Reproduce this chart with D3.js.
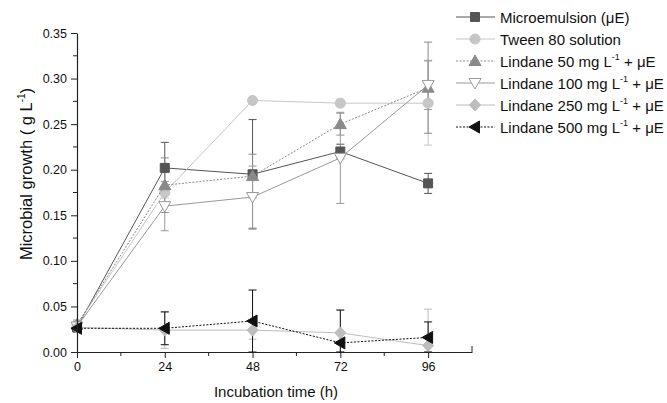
<!doctype html>
<html lang="en">
<head>
<meta charset="UTF-8">
<title>Microbial growth</title>
<script src="https://cdn.jsdelivr.net/npm/d3@7"></script>
<style>
  body { margin: 0; background: #fff; }
  text { font-family: "Liberation Sans", Arial, sans-serif; }
</style>
</head>
<body>
<script>
var W = 667, H = 403;

// data
var times = [0, 24, 48, 72, 96];
var seriesNames = ["Microemulsion (\u03bcE)", "Tween 80 solution", "Lindane 50 mg L", "Lindane 100 mg L", "Lindane 250 mg L", "Lindane 500 mg L"];
var microVals   = [0.027, 0.202, 0.195, 0.220, 0.185];
var microErr    = [0.005, 0.028, 0.060, 0.008, 0.011];
var tweenVals   = [0.030, 0.175, 0.276, 0.273, 0.273];
var tweenErr    = [0.004, 0.006, 0.002, 0.004, 0.046];
var lin50Vals   = [0.030, 0.183, 0.193, 0.250, 0.290];
var lin50Err    = [0.005, 0.030, 0.024, 0.012, 0.050];
var lin100Vals  = [0.028, 0.160, 0.170, 0.213, 0.293];
var lin100Err   = [0.005, 0.027, 0.034, 0.050, 0.027];
var lin250Vals  = [0.027, 0.024, 0.024, 0.021, 0.007];
var lin250Err   = [0.003, 0.020, 0.010, 0.025, 0.040];
var lin500Vals  = [0.026, 0.026, 0.034, 0.010, 0.016];
var lin500Err   = [0.003, 0.018, 0.034, 0.036, 0.017];
var xTicks = [0, 24, 48, 72, 96];
var yTicks = [0, 0.05, 0.10, 0.15, 0.20, 0.25, 0.30, 0.35];

var styles = [
  { vals: microVals,  err: microErr,  color: "#555", shape: "square",  dash: null,  fill: "#555" },
  { vals: tweenVals,  err: tweenErr,  color: "#c6c6c6", shape: "circle", dash: null, fill: "#c6c6c6" },
  { vals: lin50Vals,  err: lin50Err,  color: "#8a8a8a", shape: "up",   dash: "2,1.5", fill: "#8a8a8a" },
  { vals: lin100Vals, err: lin100Err, color: "#999", shape: "down",  dash: null, fill: "#fff" },
  { vals: lin250Vals, err: lin250Err, color: "#bdbdbd", shape: "diamond", dash: null, fill: "#bdbdbd" },
  { vals: lin500Vals, err: lin500Err, color: "#111", shape: "left",  dash: "2,1.5", fill: "#111" }
];

var x = d3.scaleLinear().domain([0, 108]).range([77, 472]);
var y = d3.scaleLinear().domain([0, 0.35]).range([352, 33]);

var svg = d3.select("body").append("svg").attr("width", W).attr("height", H);

function markerPath(shape) {
  if (shape === "square") return "M-4.5,-4.5H4.5V4.5H-4.5Z";
  if (shape === "circle") return d3.symbol(d3.symbolCircle, 80)();
  if (shape === "up") return "M0,-6L6,4.5H-6Z";
  if (shape === "down") return "M0,6L6,-4.5H-6Z";
  if (shape === "diamond") return "M0,-6L5.5,0L0,6L-5.5,0Z";
  if (shape === "left") return "M-6,0L4.5,-6V6Z";
}

var line = d3.line().x(function(d) { return x(d[0]); }).y(function(d) { return y(d[1]); });

// error bars
styles.forEach(function(s) {
  var g = svg.append("g");
  times.forEach(function(t, i) {
    var cx = x(t), top = y(s.vals[i] + s.err[i]), bot = y(Math.max(0, s.vals[i] - s.err[i]));
    g.append("line").attr("x1", cx).attr("x2", cx).attr("y1", top).attr("y2", bot)
      .attr("stroke", s.color).attr("stroke-width", 1);
    [top, bot].forEach(function(yy) {
      g.append("line").attr("x1", cx - 4).attr("x2", cx + 4).attr("y1", yy).attr("y2", yy)
        .attr("stroke", s.color).attr("stroke-width", 1);
    });
  });
});

// lines and markers
styles.forEach(function(s) {
  var pts = times.map(function(t, i) { return [t, s.vals[i]]; });
  svg.append("path").attr("d", line(pts)).attr("fill", "none")
    .attr("stroke", s.color).attr("stroke-width", 1)
    .attr("stroke-dasharray", s.dash);
  svg.selectAll(null).data(pts).enter().append("path")
    .attr("d", markerPath(s.shape))
    .attr("transform", function(d) { return "translate(" + x(d[0]) + "," + y(d[1]) + ")"; })
    .attr("fill", s.fill).attr("stroke", s.color).attr("stroke-width", 1);
});

// axes
var xAxis = svg.append("g").attr("transform", "translate(0,352)")
  .call(d3.axisBottom(x).tickValues(xTicks).tickSize(6).tickPadding(4).tickSizeOuter(0).tickFormat(d3.format("d")));
xAxis.append("g").selectAll("line").data([12, 36, 60, 84]).enter().append("line")
  .attr("x1", function(d) { return x(d); }).attr("x2", function(d) { return x(d); })
  .attr("y1", 0).attr("y2", 4).attr("stroke", "#000");
xAxis.append("line").attr("x1", x(108)).attr("x2", x(108)).attr("y1", 0).attr("y2", -6).attr("stroke", "#000");

var yAxis = svg.append("g").attr("transform", "translate(77,0)")
  .call(d3.axisLeft(y).tickValues(yTicks).tickSize(6).tickPadding(4).tickSizeOuter(0).tickFormat(d3.format(".2f")));
yAxis.append("g").selectAll("line").data([0.025, 0.075, 0.125, 0.175, 0.225, 0.275, 0.325]).enter().append("line")
  .attr("x1", 0).attr("x2", -4)
  .attr("y1", function(d) { return y(d); }).attr("y2", function(d) { return y(d); }).attr("stroke", "#000");

[xAxis, yAxis].forEach(function(a) {
  a.selectAll("text").attr("font-size", 12.5).attr("fill", "#111")
    .attr("font-family", "'Liberation Sans', Arial, sans-serif");
  a.select(".domain").attr("stroke", "#222").attr("stroke-width", 1.2);
  a.selectAll("line").attr("stroke", "#222");
});

// axis titles
svg.append("text").attr("x", 276).attr("y", 397).attr("text-anchor", "middle")
  .attr("font-size", 15).attr("fill", "#111").text("Incubation time (h)");
var yt = svg.append("text").attr("transform", "translate(32,174) rotate(-90)")
  .attr("text-anchor", "middle").attr("font-size", 16.5).attr("fill", "#111");
yt.append("tspan").text("Microbial growth ( g L");
yt.append("tspan").attr("font-size", 10).attr("dy", -7).text("-1");
yt.append("tspan").attr("dy", 7).text(")");

// legend
var leg = svg.append("g");
styles.forEach(function(s, i) {
  var ly = 17 + i * 22;
  leg.append("line").attr("x1", 456).attr("x2", 495).attr("y1", ly).attr("y2", ly)
    .attr("stroke", s.color).attr("stroke-width", 1).attr("stroke-dasharray", s.dash);
  leg.append("path").attr("d", markerPath(s.shape)).attr("transform", "translate(475," + ly + ")")
    .attr("fill", s.fill).attr("stroke", s.color);
  var t = leg.append("text").attr("x", 500).attr("y", ly + 5.5).attr("font-size", 15).attr("fill", "#111");
  t.append("tspan").text(seriesNames[i]);
  if (i >= 2) {
    t.append("tspan").attr("font-size", 9).attr("dy", -7).text("-1");
    t.append("tspan").attr("dy", 7).text(" + \u03bcE");
  }
});
</script>
</body>
</html>
